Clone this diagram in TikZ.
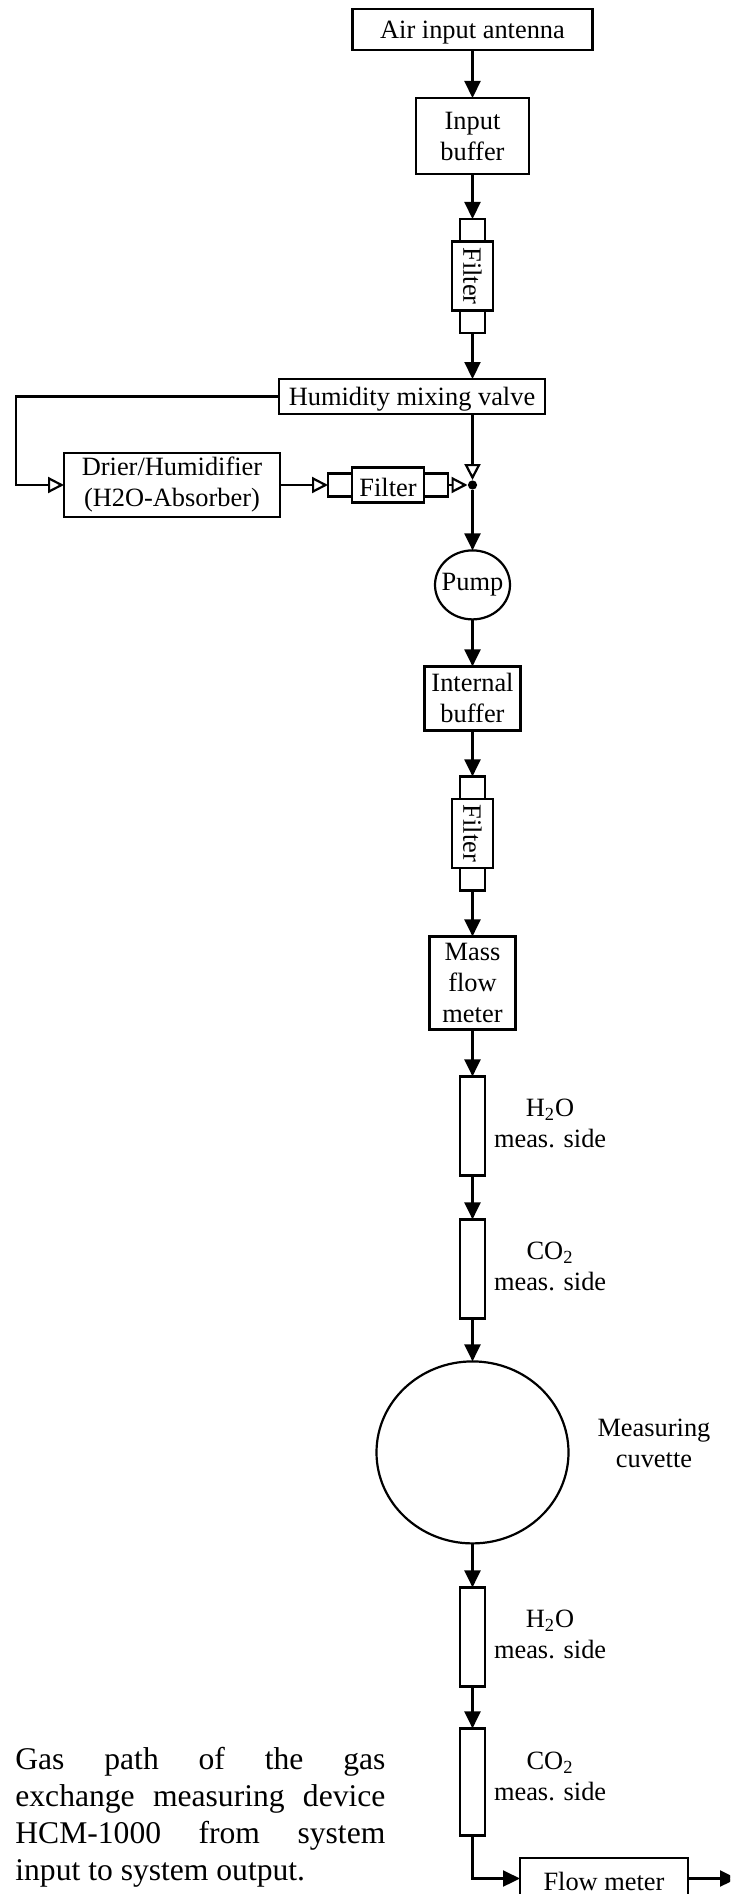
\documentclass[tikz,border=0pt]{standalone}
\usepackage{fontspec}
\setmainfont{Liberation Serif}
\usepackage{xcolor}
\usetikzlibrary{positioning, arrows.meta, shapes.geometric}

\begin{document}
\begin{tikzpicture}[
    x=0.5pt,
    y=-0.5pt,
    box/.style={
        rectangle,
        draw,
        line width=1.1pt,
        inner sep=0pt,
        outer sep=0pt,
        align=center,
        font=\fontsize{13.2}{15.5}\selectfont
    },
    textbox/.style={
        box,
        execute at begin node={\rule{0pt}{12pt}}
    },
    round/.style={
        box,
        ellipse
    },
    nub/.style={
        box,
        minimum width=12.5pt,
        minimum height=11.25pt
    },
    sidenub/.style={
        box,
        minimum width=12pt,
        minimum height=11.5pt
    },
    filterbox/.style={
        box,
        minimum width=20.5pt,
        minimum height=34.5pt
    },
    tube/.style={
        box,
        minimum width=12.5pt,
        minimum height=49.5pt
    },
    note/.style={
        inner sep=0pt,
        outer sep=0pt,
        align=center,
        font=\fontsize{13.2}{15.5}\selectfont
    },
    arrow/.style={
        line width=1.1pt,
        -{Triangle[length=8.5pt,width=8pt]}
    },
    openarrow/.style={
        line width=1.1pt,
        -{Triangle[open,length=8pt,width=8pt]}
    }
]

\path[use as bounding box, clip] (0,0) rectangle (730,1894);

% Main flow

\node[textbox, minimum width=120pt, minimum height=20.5pt] (air) at (472.5,29.5) {Air input antenna};

\node[textbox, minimum width=56.5pt, minimum height=38pt, below=24pt of air] (inbuf) {Input\\buffer};

\node[nub, below=22.5pt of inbuf] (nubA) {};
\node[filterbox, below=0pt of nubA] (filterA) {\rotatebox{-90}{Filter}};
\node[nub, below=0pt of filterA] (nubB) {};

\node[textbox, minimum width=133pt, minimum height=17.5pt] (valve) at (412,396.5) {Humidity mixing valve};

% Side branch

\node[textbox, minimum width=108pt, minimum height=32pt] (drier) at (172,485) {Drier/Humidifier\\(H2O-Absorber)};
\node[sidenub, right=24pt of drier] (nubC) {};
\node[textbox, minimum width=36pt, minimum height=17.5pt, right=0pt of nubC] (filterB) {Filter};
\node[sidenub, right=0pt of filterB] (nubD) {};
\node[circle, fill=black, inner sep=0pt, minimum size=4.6pt] (dot) at (472.5,485) {};
\coordinate (loop) at (16,485);

% Lower part

\node[round, minimum width=37.5pt, minimum height=34.5pt, below=30.2pt of dot] (pump) {\makebox[0pt]{Pump}};

\node[textbox, minimum width=48pt, minimum height=32pt, below=23.5pt of pump] (intbuf) {Internal\\buffer};

\node[nub, below=23pt of intbuf] (nubE) {};
\node[filterbox, below=0pt of nubE] (filterC) {\rotatebox{-90}{Filter}};
\node[nub, below=0pt of filterC] (nubF) {};

\node[textbox, minimum width=43pt, minimum height=46.5pt, below=23pt of nubF] (mass) {Mass\\flow\\meter};

\node[tube, below=23.5pt of mass] (waterA) {};
\node[tube, below=22pt of waterA] (carbonA) {};
\node[round, minimum width=96pt, minimum height=91pt, below=21.5pt of carbonA] (cuvette) {};
\node[tube, below=22pt of cuvette] (waterB) {};
\node[tube, minimum height=53.5pt, below=21pt of waterB] (carbonB) {};

\node[textbox, minimum width=84pt, minimum height=20.5pt] (flow) at (604,1878.5) {Flow meter};
\coordinate (out) at (737,1878.5);

% Labels

\node[note, right=4.5pt of waterA, yshift=1pt] (labelA) {H\textsubscript{2}O\\meas. side};
\node[note, right=4.5pt of carbonA, yshift=1pt] (labelB) {CO\textsubscript{2}\\meas. side};
\node[note, right=14.5pt of cuvette, yshift=4.5pt] (labelC) {Measuring\\cuvette};
\node[note, right=4.5pt of waterB, yshift=1pt] (labelD) {H\textsubscript{2}O\\meas. side};
\node[note, right=4.5pt of carbonB, yshift=2.5pt] (labelE) {CO\textsubscript{2}\\meas. side};

\node[inner sep=0pt, text width=185pt, align=justify, anchor=north west,
    font=\fontsize{15.8}{18.5}\selectfont] (caption) at (15,1747)
    {Gas path of the gas\linebreak exchange measuring device\linebreak HCM-1000 from system\linebreak input to system output.};

% Arrows

\draw[arrow] (air)--(inbuf);
\draw[arrow] (inbuf)--(nubA);
\draw[arrow] (nubB.south)--(nubB |- valve.north);
\draw[openarrow] (dot |- valve.south)--(dot.north);
\draw[openarrow] (valve.west) -| (loop) -- (drier.west);
\draw[openarrow] (drier)--(nubC);
\draw[openarrow] (nubD)--(dot);
\draw[arrow] (dot)--(pump);
\draw[arrow] (pump)--(intbuf);
\draw[arrow] (intbuf)--(nubE);
\draw[arrow] (nubF)--(mass);
\draw[arrow] (mass)--(waterA);
\draw[arrow] (waterA)--(carbonA);
\draw[arrow] (carbonA)--(cuvette);
\draw[arrow] (cuvette)--(waterB);
\draw[arrow] (waterB)--(carbonB);
\draw[arrow] (carbonB.south) |- (flow.west);
\draw[arrow] (flow.east)--(out);

\end{tikzpicture}
\end{document}
